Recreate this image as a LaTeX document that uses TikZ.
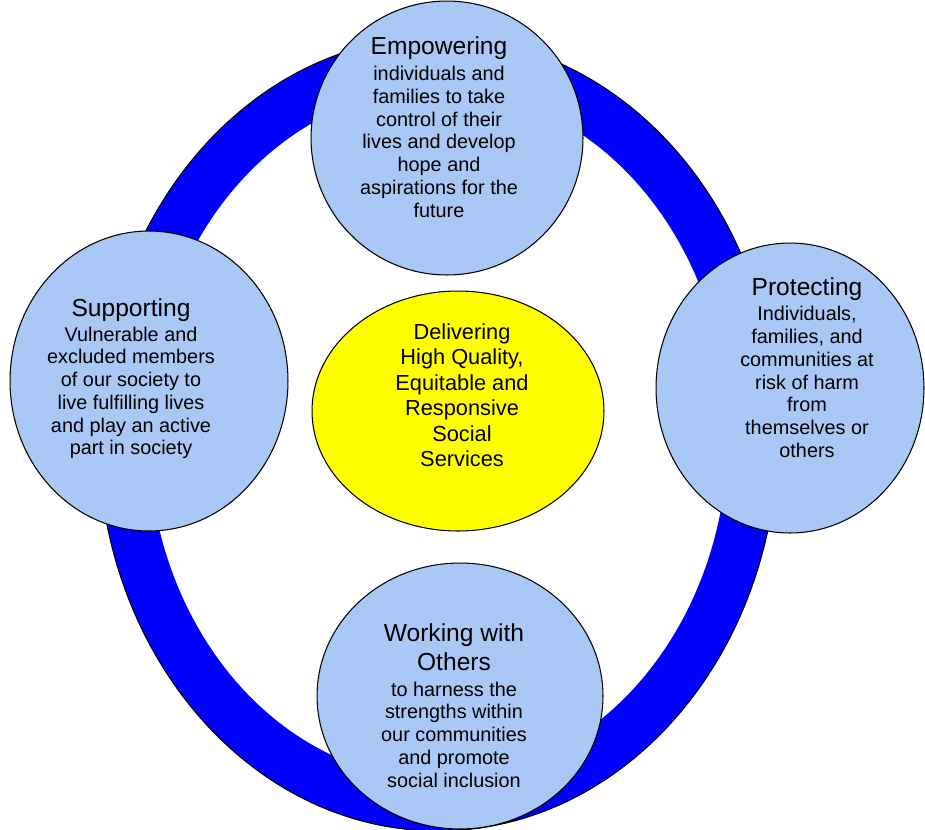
\documentclass[tikz,border=0pt]{standalone}
\usepackage{fontspec}
\setmainfont{Liberation Sans}
\usetikzlibrary{shapes.geometric}
\definecolor{paleblue}{RGB}{170,200,245}
\definecolor{ringblue}{RGB}{0,0,255}
\definecolor{sunyellow}{RGB}{255,255,0}
\begin{document}
\begin{tikzpicture}[
    x=0.02cm, y=-0.02cm,
    line width=0.6pt,
    bubble/.style={ellipse, draw, fill=paleblue, inner sep=0pt},
    hub/.style={ellipse, draw, fill=sunyellow, inner sep=0pt},
    txt/.style={align=center, inner sep=0pt, anchor=north, font=\fontsize{11.3}{12.95}\selectfont},
    hubtxt/.style={align=center, inner sep=0pt, anchor=north, font=\fontsize{12.4}{14.5}\selectfont}
  ]
    \useasboundingbox (0,0) rectangle (925,829);
    \newcommand{\ttl}[1]{{\fontsize{14}{16}\selectfont #1}}

    % ring
    \coordinate (ringc) at (438,434);
    \fill[ringblue, even odd rule] (ringc) ellipse [x radius=6.8cm, y radius=7.94cm]
                                   (ringc) ellipse [x radius=5.8cm, y radius=6.9cm];
    \draw (ringc) ellipse [x radius=6.8cm, y radius=7.94cm];

    \node[bubble, minimum width=5.44cm, minimum height=5.48cm] (empower) at (447,138) {};
    \node[bubble, minimum width=5.56cm, minimum height=6cm] (support) at (149,381) {};
    \node[bubble, minimum width=5.36cm, minimum height=5.8cm] (protect) at (790,388) {};
    \node[bubble, minimum width=5.72cm, minimum height=5.32cm] (working) at (460,696) {};
    \node[hub, minimum width=5.84cm, minimum height=4.8cm] (deliver) at (458,411) {};

    \node[txt] (empowertxt) at (439,36) {\ttl{Empowering}\\[2pt]individuals and\\families to take\\control of their\\lives and develop\\hope and\\aspirations for the\\future};
    \node[txt] (supporttxt) at (131,298) {\ttl{Supporting}\\[1.2pt]Vulnerable and\\excluded members\\of our society to\\live fulfilling lives\\and play an active\\part in society};
    \node[txt] (protecttxt) at (807,277) {\ttl{Protecting}\\[1.6pt]Individuals,\\families, and\\communities at\\risk of harm\\from\\themselves or\\others};
    \node[txt] (workingtxt) at (454,623) {\ttl{Working with}\\[2.8pt]\ttl{Others}\\[1.4pt]to harness the\\strengths within\\our communities\\and promote\\social inclusion};
    \node[hubtxt] (delivertxt) at (462,323) {Delivering\\High Quality,\\Equitable and\\Responsive\\Social\\Services};
\end{tikzpicture}
\end{document}
